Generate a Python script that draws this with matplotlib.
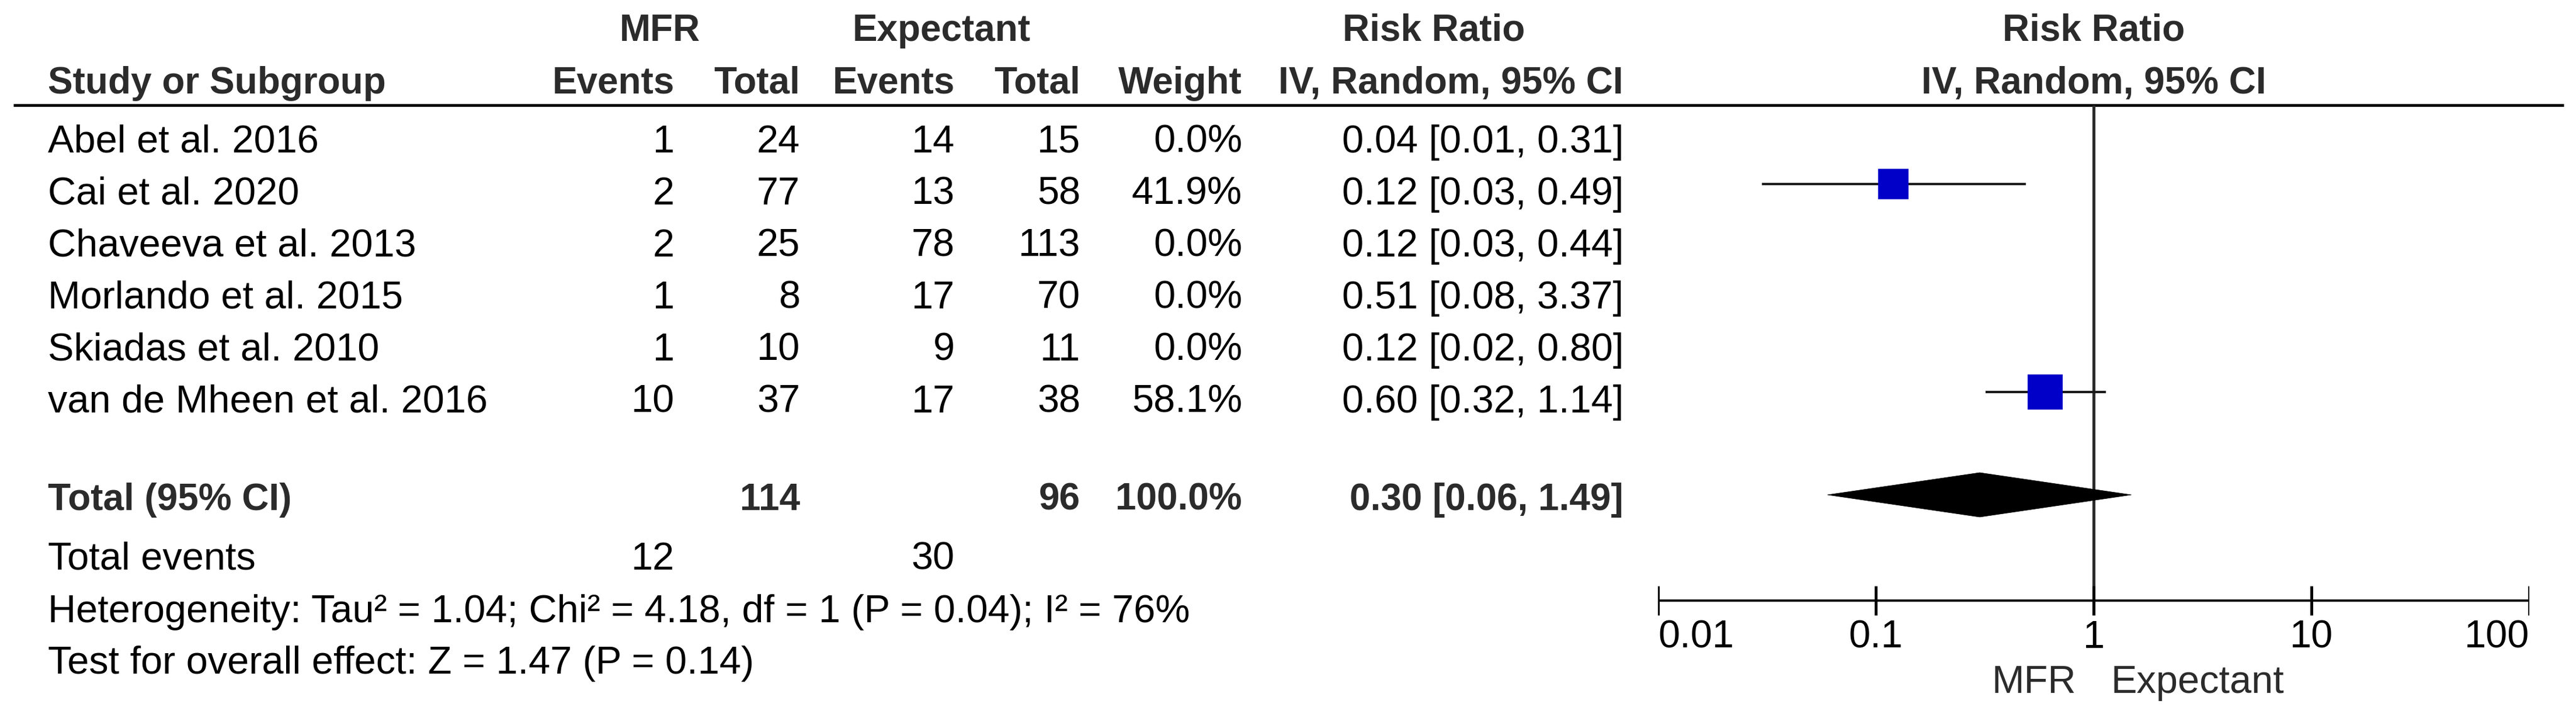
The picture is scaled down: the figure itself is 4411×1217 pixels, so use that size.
import matplotlib
matplotlib.use("Agg")
import matplotlib.pyplot as plt
from matplotlib.patches import Polygon
import numpy as np

# ---------------- data ----------------
studies = ["Abel et al. 2016", "Cai et al. 2020", "Chaveeva et al. 2013",
           "Morlando et al. 2015", "Skiadas et al. 2010", "van de Mheen et al. 2016"]
mfr_events = [1, 2, 2, 1, 1, 10]
mfr_total = [24, 77, 25, 8, 10, 37]
exp_events = [14, 13, 78, 17, 9, 17]
exp_total = [15, 58, 113, 70, 11, 38]
weights = [0.0, 41.9, 0.0, 0.0, 0.0, 58.1]
rr = [0.04, 0.12, 0.12, 0.51, 0.12, 0.60]
rr_lo = [0.01, 0.03, 0.03, 0.08, 0.02, 0.32]
rr_hi = [0.31, 0.49, 0.44, 3.37, 0.80, 1.14]

total_mfr = 114
total_exp = 96
total_weight = 100.0
total_rr, total_lo, total_hi = 0.30, 0.06, 1.49
total_events_mfr = 12
total_events_exp = 30
heterogeneity = "Heterogeneity: Tau² = 1.04; Chi² = 4.18, df = 1 (P = 0.04); I² = 76%"
overall = "Test for overall effect: Z = 1.47 (P = 0.14)"
tick_vals = [0.01, 0.1, 1, 10, 100]
tick_labels = ["0.01", "0.1", "1", "10", "100"]
left_label = "MFR"
right_label = "Expectant"

# ---------------- layout (pixels) ----------------
W, H = 4411, 1217
DPI = 100
FS = 48       # regular
FSB = 46      # bold
FONT = "Liberation Sans"
DARK = "#2b2b2b"

row_y = [237, 326, 415, 504, 593, 682]
total_y = 850
tev_y = 951
het_y = 1041
test_y = 1129
h1_y, h2_y = 47, 137
line_y = 180
axis_y = 1028
ticklab_y = 1085
favour_y = 1162

col_study = 82
col_me, col_mt, col_ee, col_et, col_w, col_ci = 1155, 1370, 1635, 1850, 2127, 2780
forest_l, forest_r = 2839, 4331

fig = plt.figure(figsize=(W / DPI, H / DPI), dpi=DPI)
ax = fig.add_axes([0, 0, 1, 1])
ax.set_xlim(0, W)
ax.set_ylim(H, 0)
ax.axis("off")


def cap_half(fs):
    return 0.716 * fs * DPI / 72 / 2


def txt(x, y, s, ha="left", bold=False, color="black", fs=None):
    f = fs if fs else (FSB if bold else FS)
    ax.text(x, y + cap_half(f), s, ha=ha, va="baseline", fontsize=f,
            fontweight="bold" if bold else "normal", family=FONT, color=color)


# headers
txt((1063 + 1197) / 2, h1_y, "MFR", ha="center", bold=True, color=DARK)
txt(1612, h1_y, "Expectant", ha="center", bold=True, color=DARK)
txt(2455, h1_y, "Risk Ratio", ha="center", bold=True, color=DARK)
txt(3585, h1_y, "Risk Ratio", ha="center", bold=True, color=DARK)
txt(col_study, h2_y, "Study or Subgroup", bold=True, color=DARK)
txt(col_me, h2_y, "Events", ha="right", bold=True, color=DARK)
txt(col_mt, h2_y, "Total", ha="right", bold=True, color=DARK)
txt(col_ee, h2_y, "Events", ha="right", bold=True, color=DARK)
txt(col_et, h2_y, "Total", ha="right", bold=True, color=DARK)
txt(col_w, h2_y, "Weight", ha="right", bold=True, color=DARK)
txt(col_ci, h2_y, "IV, Random, 95% CI", ha="right", bold=True, color=DARK)
txt(3585, h2_y, "IV, Random, 95% CI", ha="center", bold=True, color=DARK)

ax.plot([23, 4390], [line_y, line_y], color="black", lw=3.4, solid_capstyle="butt")

# study rows
for i, y in enumerate(row_y):
    txt(col_study, y, studies[i])
    txt(col_me, y, str(mfr_events[i]), ha="right")
    txt(col_mt, y, str(mfr_total[i]), ha="right")
    txt(col_ee, y, str(exp_events[i]), ha="right")
    txt(col_et, y, str(exp_total[i]), ha="right")
    txt(col_w, y, f"{weights[i]:.1f}%", ha="right")
    txt(col_ci, y, f"{rr[i]:.2f} [{rr_lo[i]:.2f}, {rr_hi[i]:.2f}]", ha="right")

# total row
txt(col_study, total_y, "Total (95% CI)", bold=True, color=DARK)
txt(col_mt, total_y, str(total_mfr), ha="right", bold=True, color=DARK)
txt(col_et, total_y, str(total_exp), ha="right", bold=True, color=DARK)
txt(col_w, total_y, f"{total_weight:.1f}%", ha="right", bold=True, color=DARK)
txt(col_ci, total_y, f"{total_rr:.2f} [{total_lo:.2f}, {total_hi:.2f}]", ha="right", bold=True, color=DARK)

txt(col_study, tev_y, "Total events")
txt(col_me, tev_y, str(total_events_mfr), ha="right")
txt(col_ee, tev_y, str(total_events_exp), ha="right")
txt(col_study, het_y, heterogeneity)
txt(col_study, test_y, overall)

# ---------------- forest axes ----------------
axf = fig.add_axes([forest_l / W, 0, (forest_r - forest_l) / W, 1])
axf.set_xscale("log")
axf.set_xlim(tick_vals[0], tick_vals[-1])
axf.set_ylim(H, 0)
axf.axis("off")
axf.patch.set_alpha(0)

# null line
axf.plot([1, 1], [line_y, axis_y], color=DARK, lw=3.6, solid_capstyle="butt", zorder=1)

# studies (only those with weight)
for i, y in enumerate(row_y):
    if weights[i] <= 0:
        continue
    ym = y - 11
    axf.plot([rr_lo[i], rr_hi[i]], [ym, ym], color="#1a1a1a", lw=2.9,
             solid_capstyle="butt", zorder=2)
    side_px = 8.0 * np.sqrt(weights[i])
    axf.plot([rr[i]], [ym], marker="s", markersize=side_px * 72 / DPI,
             markerfacecolor="#0000C8", markeredgewidth=0, linestyle="none", zorder=3)

# diamond
dy = 38
ty = total_y - 3
diamond = Polygon([[total_lo, ty], [total_rr, ty - dy], [total_hi, ty], [total_rr, ty + dy]],
                  closed=True, facecolor="black", edgecolor="black", lw=0.5, zorder=3)
axf.add_patch(diamond)

# axis
axf.plot([tick_vals[0], tick_vals[-1]], [axis_y, axis_y], color="black", lw=2.9,
         solid_capstyle="butt", zorder=2)
for j, (v, lab) in enumerate(zip(tick_vals, tick_labels)):
    axf.plot([v, v], [axis_y - 25, axis_y + 25], color="black", lw=3.6,
             solid_capstyle="butt", zorder=2)
    ha = "left" if j == 0 else ("right" if j == len(tick_vals) - 1 else "center")
    axf.text(v, ticklab_y + cap_half(FS), lab, ha=ha, va="baseline", fontsize=FS,
             family=FONT, color="black")

axf.text(0.83, favour_y + cap_half(FS), left_label, ha="right", va="baseline",
         fontsize=FS, family=FONT, color=DARK)
axf.text(1.2, favour_y + cap_half(FS), right_label, ha="left", va="baseline",
         fontsize=FS, family=FONT, color=DARK)

fig.savefig("out.png", dpi=DPI, facecolor="white")
